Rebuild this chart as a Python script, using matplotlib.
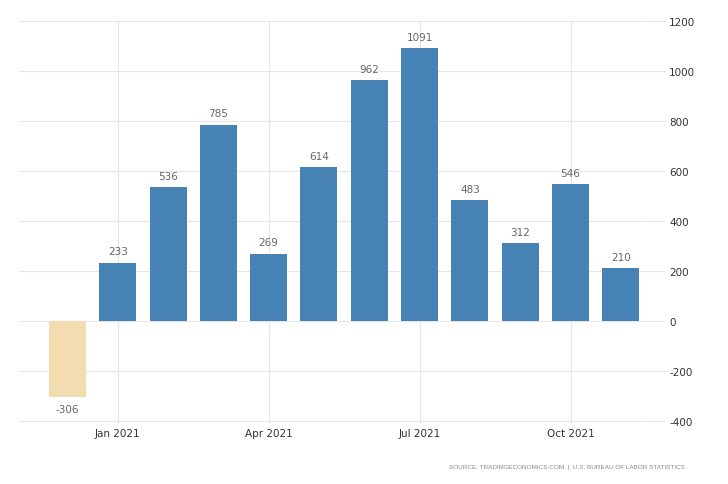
import matplotlib
matplotlib.use("Agg")
import matplotlib.pyplot as plt

# monthly change values, Dec 2020 .. Nov 2021
months = ["Dec 2020", "Jan 2021", "Feb 2021", "Mar 2021", "Apr 2021", "May 2021",
          "Jun 2021", "Jul 2021", "Aug 2021", "Sep 2021", "Oct 2021", "Nov 2021"]
values = [-306, 233, 536, 785, 269, 614, 962, 1091, 483, 312, 546, 210]
tick_idx = [1, 4, 7, 10]
tick_labels = ["Jan 2021", "Apr 2021", "Jul 2021", "Oct 2021"]
yticks = [-400, -200, 0, 200, 400, 600, 800, 1000, 1200]

plt.rcParams['font.family'] = ['DejaVu Sans']
plt.rcParams['axes.unicode_minus'] = False

fig = plt.figure(figsize=(7.28, 4.85), dpi=100)
ax = fig.add_axes([0.026, 0.124, 0.860, 0.8306])

x = list(range(len(values)))
colors = ["#F2DCB0" if v < 0 else "#4682B4" for v in values]
ax.bar(x, values, width=0.735, color=colors, zorder=2)

for xi, v in zip(x, values):
    if v >= 0:
        ax.text(xi, v + 25, str(v), ha="center", va="bottom", fontsize=7.5, color="#666666")
    else:
        ax.text(xi, v - 25, str(v), ha="center", va="top", fontsize=7.5, color="#666666")

ax.set_xlim(-0.964, 11.48)
ax.set_ylim(-412, 1200)
ax.set_yticks(yticks)
ax.set_xticks(tick_idx)
ax.set_xticklabels(tick_labels, fontsize=7.5, color="#333333")
ax.yaxis.tick_right()
ax.tick_params(axis="y", length=14.4, width=0.8, color="#e6e6e6", labelsize=7.5,
               labelcolor="#333333", pad=3)
ax.tick_params(axis="x", length=0, pad=3)
ax.grid(True, color="#e6e6e6", linewidth=0.8, zorder=0)
ax.set_axisbelow(True)
for s in ax.spines.values():
    s.set_visible(False)

fig.text(0.941, 0.037, "SOURCE: TRADINGECONOMICS.COM  |  U.S. BUREAU OF LABOR STATISTICS",
         ha="right", va="center", fontsize=4.6, color="#888888", family="Liberation Sans")

fig.savefig("out.png", dpi=100)
